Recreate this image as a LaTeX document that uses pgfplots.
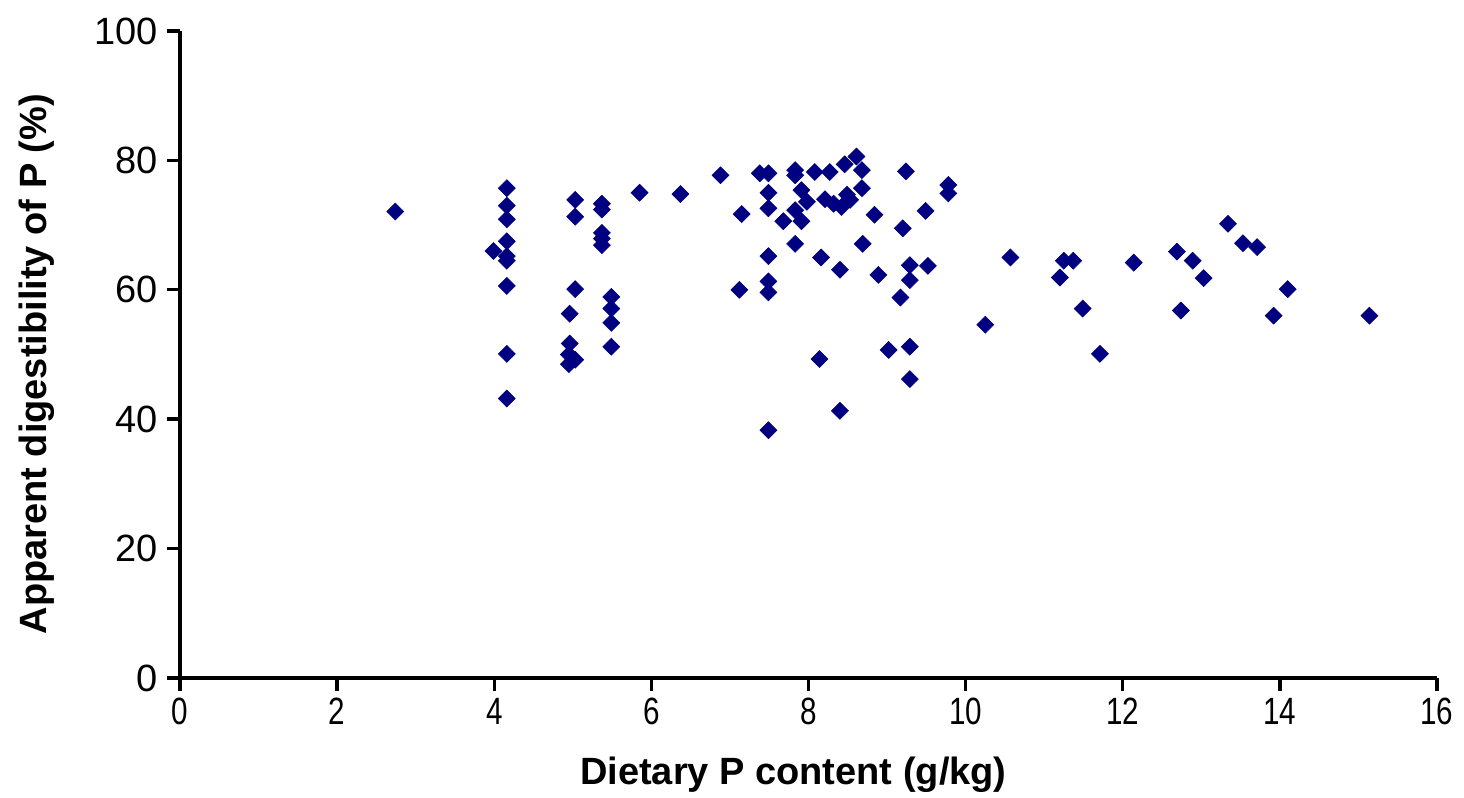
\documentclass[border=0pt]{standalone}
\usepackage{fontspec}
\setmainfont{Liberation Sans}
\usepackage{pgfplots}
\pgfplotsset{compat=1.18}
\definecolor{navy}{HTML}{000080}
\begin{document}
\begin{tikzpicture}
\begin{axis}[
  scale only axis,
  width=628.5pt, height=323.5pt,
  xmin=0, xmax=16, ymin=0, ymax=100,
  axis lines=left,
  axis line style={-, line width=1.7pt},
  xtick={0,2,...,16}, ytick={0,20,...,100},
  tick align=outside,
  major tick length=6.5pt,
  tick style={line width=1.7pt, black},
  /pgf/number format/assume math mode=true,
  ticklabel style={font=\fontsize{19}{22}\selectfont},
  xticklabel={\scalebox{0.78}[1]{\pgfmathprintnumber{\tick}}},
  yticklabel style={xshift=-1pt},
  xlabel={\bfseries Dietary P content (g/kg)},
  ylabel={\bfseries Apparent digestibility of P (\%)},
  label style={font=\fontsize{19}{22}\selectfont},
  xlabel style={at={(axis description cs:0.488,-0.150)}, anchor=center},
  ylabel style={at={(axis description cs:-0.1138,0.485)}, anchor=center, rotate=0},
  clip=false,
]
\addplot[only marks, mark=square*, mark size=3pt, mark options={rotate=45, fill=navy, draw=navy, line width=0.3pt}] coordinates {
(2.74,72.1) (4.16,75.7) (4.16,73.0) (4.16,70.9) (4.16,67.5) (3.99,66.0)
(4.16,65.2) (4.16,64.5) (4.16,60.6) (4.16,50.1) (4.16,43.2)
(5.03,73.9) (5.03,71.3) (5.37,73.3) (5.37,72.4) (5.37,68.8) (5.37,67.9) (5.37,66.9)
(5.85,75.0) (5.03,60.1) (4.96,56.3) (4.96,51.7) (4.95,50.0) (4.95,48.5) (5.03,49.2)
(5.49,58.9) (5.49,57.1) (5.49,54.9) (5.49,51.2)
(6.37,74.8) (6.88,77.7) (7.15,71.7) (7.38,78.0) (7.49,78.0) (7.49,75.0) (7.49,72.6)
(7.49,65.2) (7.49,61.3) (7.49,59.6) (7.12,60.0) (7.49,38.3)
(7.83,78.5) (7.83,77.7) (8.08,78.2) (8.27,78.2) (7.91,75.4) (7.98,73.6) (7.83,72.3)
(7.68,70.6) (7.91,70.6) (7.83,67.1) (8.16,65.0) (8.40,63.1) (8.14,49.3) (8.40,41.3)
(8.46,79.4) (8.61,80.6) (8.68,78.5) (8.68,75.7) (8.21,74.0) (8.32,73.3) (8.42,72.8)
(8.53,73.9) (8.49,74.7) (8.84,71.6) (8.69,67.1)
(9.24,78.3) (9.78,76.2) (9.78,74.9) (9.49,72.2) (9.20,69.5) (9.29,63.8) (9.52,63.7)
(9.29,61.5) (8.89,62.3) (9.17,58.8) (9.02,50.7) (9.29,51.2) (9.29,46.2)
(10.57,65.0) (10.25,54.6) (11.25,64.5) (11.37,64.5) (11.20,61.9) (11.49,57.1) (11.71,50.1)
(12.14,64.2) (12.69,65.9) (12.89,64.5) (13.03,61.8) (12.74,56.8)
(13.34,70.2) (13.53,67.2) (13.71,66.6) (14.10,60.1) (13.92,56.0) (15.14,56.0)
};
\end{axis}
\pgfresetboundingbox
\path[use as bounding box] ([shift={(-90pt,-60pt)}]current axis.south west) rectangle ([shift={(642pt,339pt)}]current axis.south west);
\end{tikzpicture}
\end{document}
